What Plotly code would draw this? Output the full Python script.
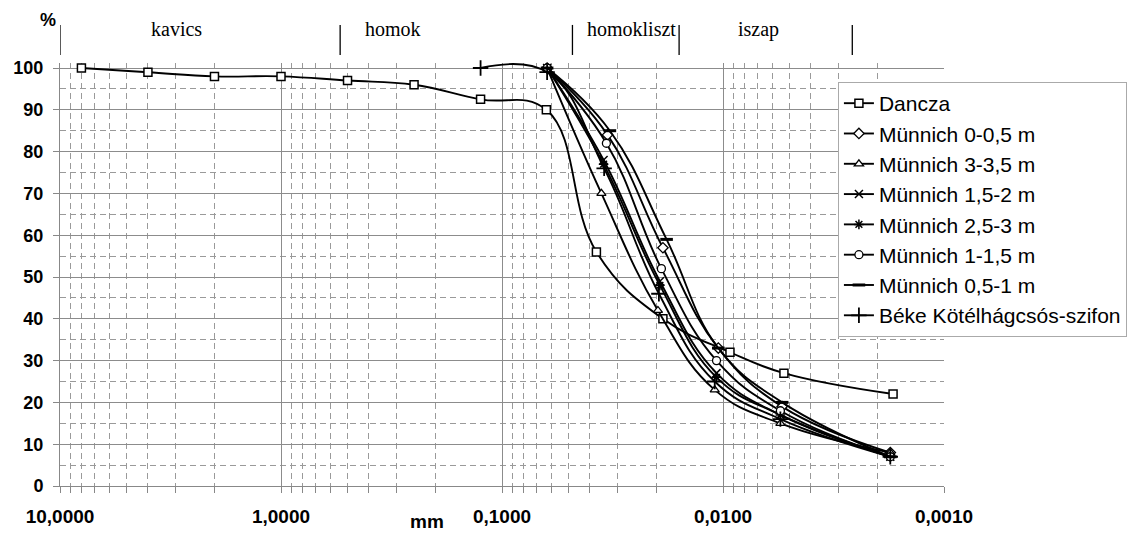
import plotly.graph_objects as go
import math

# ---------------- data ----------------
dancza_x = [8, 4, 2, 1, 0.5, 0.25, 0.125, 0.063, 0.0374, 0.0187, 0.0093, 0.0053, 0.0017]
dancza_y = [100, 99, 98, 98, 97, 96, 92.5, 90, 56, 40, 32, 27, 22]

m_0_05_x = [0.0625, 0.0333, 0.0187, 0.0105, 0.0054, 0.00175]
m_0_05_y = [100, 84, 57, 33, 19, 8]

m_3_35_x = [0.0625, 0.0355, 0.0197, 0.0109, 0.0055, 0.00175]
m_3_35_y = [100, 70, 42, 23, 15, 8]

m_15_2_x = [0.0625, 0.0347, 0.0193, 0.0107, 0.0055, 0.00175]
m_15_2_y = [100, 78, 49, 27, 17, 7]

m_25_3_x = [0.0625, 0.0347, 0.0193, 0.0107, 0.0055, 0.00175]
m_25_3_y = [100, 77, 48, 26, 17, 7]

m_1_15_x = [0.0625, 0.0337, 0.0190, 0.0107, 0.0055, 0.00175]
m_1_15_y = [100, 82, 52, 30, 18, 7]

m_05_1_x = [0.0625, 0.0325, 0.0180, 0.0105, 0.0054, 0.00175]
m_05_1_y = [100, 85, 59, 33, 20, 7]

beke_x = [0.125, 0.0625, 0.0345, 0.0195, 0.0109, 0.0055, 0.00175]
beke_y = [100, 99, 76, 46, 25, 16, 7]

series_names = ["Dancza", "Münnich 0-0,5 m", "Münnich 3-3,5 m", "Münnich 1,5-2 m",
                "Münnich 2,5-3 m", "Münnich 1-1,5 m", "Münnich 0,5-1 m",
                "Béke Kötélhágcsós-szifon"]

x_tickvals = [10, 1, 0.1, 0.01, 0.001]
x_ticktext = ["10,0000", "1,0000", "0,1000", "0,0100", "0,0010"]
y_tickvals = list(range(0, 101, 10))

zone_bounds_mm = [10, 0.54, 0.048, 0.0158, 0.0026]
zone_labels = ["kavics", "homok", "homokliszt", "iszap"]
zone_label_mm = [2.98, 0.31, 0.0259, 0.0069]

# ---------------- figure ----------------
fig = go.Figure()

styles = [
    dict(symbol="square", size=8, color="white", lw=1.5),
    dict(symbol="diamond", size=8, color="white", lw=1.3),
    dict(symbol="triangle-up", size=8, color="white", lw=1.3),
    dict(symbol="x-thin", size=8, color="black", lw=1.5),
    dict(symbol="asterisk", size=8, color="black", lw=1.5),
    dict(symbol="circle", size=8, color="white", lw=1.3),
    dict(symbol="line-ew", size=9, color="black", lw=3),
    dict(symbol="cross-thin", size=11, color="black", lw=1.8),
]
data = [(dancza_x, dancza_y), (m_0_05_x, m_0_05_y), (m_3_35_x, m_3_35_y),
        (m_15_2_x, m_15_2_y), (m_25_3_x, m_25_3_y), (m_1_15_x, m_1_15_y),
        (m_05_1_x, m_05_1_y), (beke_x, beke_y)]

for i, ((xs, ys), name, st) in enumerate(zip(data, series_names, styles)):
    fig.add_trace(go.Scatter(
        x=xs, y=ys, name=name, mode="lines+markers", legendgroup=f"g{i}",
        line=dict(color="black", width=1.9, shape="spline", smoothing=1.2),
        marker=dict(symbol=st["symbol"], size=st["size"], color=st["color"],
                    line=dict(color="black", width=st["lw"])),
        cliponaxis=False,
    ))

minor_x = [m * 10 ** k for k in range(-3, 1) for m in range(2, 10)]
minor_y = [v + 5 for v in range(0, 100, 10)]

tickfont_x = dict(family="Liberation Sans", size=19, color="black", weight="bold")
tickfont_y = dict(family="Liberation Sans", size=18, color="black", weight="bold")

# the page body adds an 8 px offset; margins compensate for it
fig.update_layout(
    template="none",
    width=1141, height=534,
    margin=dict(l=52, r=205, t=55, b=56, autoexpand=False),
    paper_bgcolor="white", plot_bgcolor="white",
    font=dict(family="Liberation Sans", color="black"),
    xaxis=dict(
        type="log", range=[1, -3], automargin=False,
        tickmode="array", tickvals=x_tickvals, ticktext=x_ticktext,
        tickfont=tickfont_x, ticks="outside", ticklen=6, tickcolor="#888",
        showgrid=True, gridcolor="#8c8c8c", gridwidth=1,
        showline=True, linecolor="#888", linewidth=1, zeroline=False,
        ticklabelstandoff=7,
        minor=dict(tickmode="array", tickvals=minor_x, showgrid=True,
                   gridcolor="#9a9a9a", griddash="6px,4px", gridwidth=1,
                   ticks="outside", ticklen=6, tickcolor="#888"),
    ),
    yaxis=dict(
        range=[0, 101.2], tickmode="array", tickvals=y_tickvals, automargin=False,
        tickfont=tickfont_y, ticks="outside", ticklen=6, tickcolor="#888",
        showgrid=True, gridcolor="#8c8c8c", gridwidth=1,
        showline=True, linecolor="#888", linewidth=1, zeroline=False,
        ticklabelstandoff=6,
        minor=dict(tickmode="array", tickvals=minor_y, showgrid=True,
                   gridcolor="#9a9a9a", griddash="6px,4px", gridwidth=1),
    ),
    legend=dict(
        x=0.880, y=0.955, xanchor="left", yanchor="top",
        bgcolor="white", bordercolor="#aaa", borderwidth=1,
        font=dict(family="Liberation Sans", size=21, color="black"),
        tracegroupgap=0,
    ),
    showlegend=True,
)

# zone separators and labels
for b in zone_bounds_mm:
    fig.add_shape(type="line", xref="x", yref="paper", x0=b, x1=b,
                  y0=1.019, y1=1.09, line=dict(color="black", width=1.3))
for lab, xm in zip(zone_labels, zone_label_mm):
    fig.add_annotation(x=math.log10(xm), y=1.08, xref="x", yref="paper",
                       text=lab, showarrow=False, xanchor="center", yanchor="middle",
                       font=dict(family="Liberation Serif", size=20, color="black"))

fig.add_annotation(x=-0.0136, y=1.102, xref="paper", yref="paper", text="<b>%</b>",
                   showarrow=False, xanchor="center", yanchor="middle",
                   font=dict(family="Liberation Sans", size=18, color="black"))
fig.add_annotation(x=0.415, y=-0.083, xref="paper", yref="paper", text="<b>mm</b>",
                   showarrow=False, xanchor="center", yanchor="middle",
                   font=dict(family="Liberation Sans", size=19, color="black"))

fig.write_html("out.html")
